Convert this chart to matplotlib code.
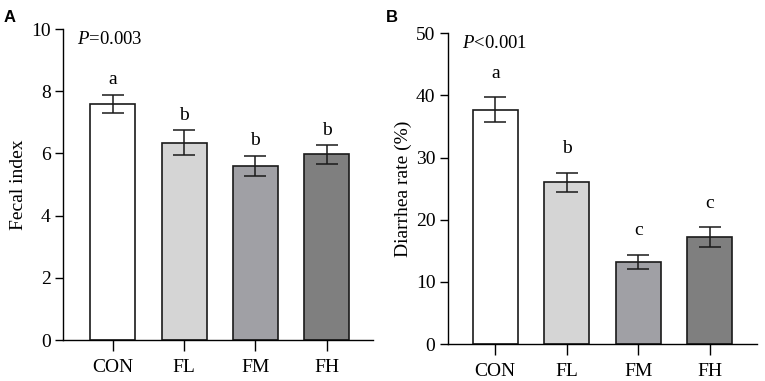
import matplotlib
matplotlib.use("Agg")
import matplotlib.pyplot as plt

groups = ["CON", "FL", "FM", "FH"]
fecal_mean = [7.6, 6.35, 5.6, 5.97]
fecal_err = [0.29, 0.40, 0.33, 0.31]
fecal_letters = ["a", "b", "b", "b"]
diar_mean = [37.7, 26.0, 13.2, 17.2]
diar_err = [2.0, 1.6, 1.2, 1.6]
diar_letters = ["a", "b", "c", "c"]
colors = ["#ffffff", "#d5d5d5", "#a0a0a5", "#7f7f7f"]

plt.rcParams['font.family'] = ['Liberation Serif', 'DejaVu Serif']
plt.rcParams['mathtext.fontset'] = 'custom'
plt.rcParams['mathtext.rm'] = 'Liberation Serif'
plt.rcParams['mathtext.it'] = 'Liberation Serif:italic'
plt.rcParams['axes.linewidth'] = 1.0

fig = plt.figure(figsize=(7.65, 3.81), dpi=100)
axA = fig.add_axes([0.0824, 0.1076, 0.405, 0.816])
axB = fig.add_axes([0.5856, 0.097, 0.404, 0.8156])

def panel(ax, mean, err, letters, ymax, step, ylabel, ptext, letter_off, xl):
    x = list(range(len(groups)))
    ax.bar(x, mean, width=0.63, color=colors, edgecolor="#1a1a1a", linewidth=1.2, zorder=2)
    ax.errorbar(x, mean, yerr=err, fmt='none', ecolor="#1a1a1a", elinewidth=1.1,
                capsize=8, capthick=1.1, zorder=3)
    for xi, m, e, l in zip(x, mean, err, letters):
        ax.annotate(l, (xi, m + e), xytext=(0, letter_off), textcoords='offset points',
                    ha='center', va='bottom', fontsize=14)
    ax.set_xlim(*xl)
    ax.set_ylim(0, ymax)
    ax.set_yticks([i * step for i in range(int(ymax / step) + 1)])
    ax.set_xticks(x)
    ax.set_xticklabels(groups, fontsize=14)
    ax.tick_params(axis='y', labelsize=14, length=6, width=1.0, pad=3)
    ax.tick_params(axis='x', length=8, width=1.0, pad=6)
    ax.spines['top'].set_visible(False)
    ax.spines['right'].set_visible(False)
    ax.set_ylabel(ylabel, fontsize=14, labelpad=3)
    ax.text(0.045, 0.995, ptext, transform=ax.transAxes, ha='left', va='top', fontsize=13.5)

panel(axA, fecal_mean, fecal_err, fecal_letters, 10, 2, "Fecal index", r"$P$=0.003", 4.5, (-0.70, 3.65))
panel(axB, diar_mean, diar_err, diar_letters, 50, 10, "Diarrhea rate (%)", r"$P$<0.001", 11, (-0.66, 3.66))

fig.text(0.005, 0.975, "A", fontsize=12, fontweight='bold', family='Liberation Sans', va='top')
fig.text(0.505, 0.975, "B", fontsize=12, fontweight='bold', family='Liberation Sans', va='top')

fig.savefig("out.png", dpi=100)
